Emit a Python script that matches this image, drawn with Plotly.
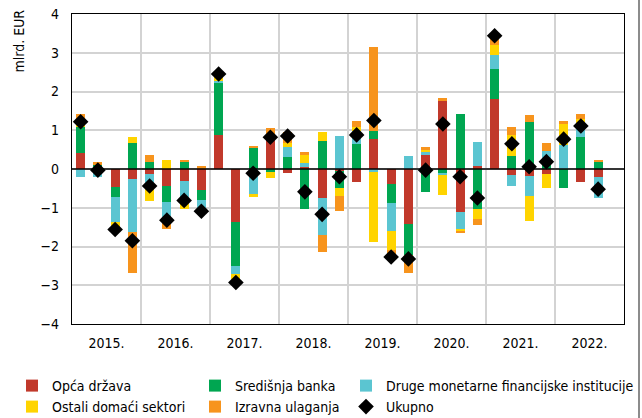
import plotly.graph_objects as go

# Quarterly flows, 2015 Q1 - 2022 Q3 (mlrd. EUR)
years = ["2015.", "2016.", "2017.", "2018.", "2019.", "2020.", "2021.", "2022."]
quarters = [f"{y[:4]} Q{q}" for y in years for q in range(1, 5)][:31]

opca_drzava = [0.42, 0.03, -0.47, -0.26,
               -0.13, -0.45, -0.30, -0.54,
               0.88, -1.37, 0.00, 0.75,
               -0.11, 0.06, -0.74, -0.05,
               -0.34, 0.77, -0.38, -1.41,
               0.37, 1.76, -1.12, 0.09,
               1.80, -0.15, -0.18, -0.12,
               0.00, -0.33, -0.21]
sredisnja_banka = [0.66, 0.08, -0.26, 0.68,
                   0.18, -0.41, 0.19, -0.26,
                   1.35, -1.14, 0.56, -0.07,
                   0.32, -1.04, 0.72, -0.43,
                   0.65, 0.20, -0.50, -0.80,
                   -0.59, -0.12, 1.42, -1.02,
                   0.77, 0.34, 1.22, 0.15,
                   -0.48, 0.83, 0.19]
druge_mfi = [-0.21, -0.21, -0.63, -1.36,
             -0.31, -0.49, -0.54, -0.30,
             0.04, -0.21, -0.66, 0.00,
             0.26, 0.10, -0.96, 0.86,
             0.33, -0.09, -0.71, 0.34,
             0.06, -0.04, -0.42, 0.61,
             0.38, -0.28, -0.52, 0.31,
             0.62, 0.20, -0.53]
ostali_sektori = [0.20, 0.01, -0.20, 0.14,
                  -0.38, 0.22, -0.20, -0.05,
                  0.14, -0.18, -0.05, -0.17,
                  0.09, 0.20, 0.24, -0.21,
                  0.10, -1.80, -0.49, -0.07,
                  0.07, -0.52, -0.07, -0.28,
                  0.25, 0.55, -0.64, -0.36,
                  0.54, 0.25, 0.00]
izravna_ulaganja = [0.15, 0.05, 0.00, -1.06,
                    0.18, -0.20, 0.02, 0.08,
                    0.04, -0.03, 0.03, 0.30,
                    0.28, 0.09, -0.43, -0.39,
                    0.15, 2.19, -0.17, -0.40,
                    0.06, 0.08, -0.03, -0.15,
                    0.23, 0.20, 0.17, 0.20,
                    0.08, 0.13, 0.02]
ukupno = [1.22, -0.03, -1.56, -1.85,
          -0.44, -1.32, -0.81, -1.09,
          2.45, -2.93, -0.11, 0.82,
          0.85, -0.59, -1.17, -0.20,
          0.88, 1.25, -2.27, -2.32,
          -0.03, 1.16, -0.20, -0.75,
          3.44, 0.65, 0.06, 0.19,
          0.77, 1.11, -0.52]

y_ticks = [-4, -3, -2, -1, 0, 1, 2, 3, 4]

FONT = "DejaVu Sans Condensed, Liberation Sans, sans-serif"
x = list(range(len(quarters)))

W, H = 642, 418
L, R, T, B = 72, 18, 14, 94
pw, ph = W - L - R, H - T - B


def px_x(p):
    return (p - L) / pw


def px_y(p):
    return (H - B - p) / ph


# legend grid: three columns, two rows
col_left = [12, 195, 346]
row_top = [370, 391]

series = [
    ("Opća država", opca_drzava, "#C1392B", (0, 0)),
    ("Središnja banka", sredisnja_banka, "#00A651", (1, 0)),
    ("Druge monetarne financijske institucije", druge_mfi, "#5BC5D1", (2, 0)),
    ("Ostali domaći sektori", ostali_sektori, "#FFD400", (0, 1)),
    ("Izravna ulaganja", izravna_ulaganja, "#F7941D", (1, 1)),
]

legend_common = dict(
    orientation="v", yanchor="top", xanchor="left",
    font=dict(family=FONT, size=14, color="black"),
    bgcolor="rgba(0,0,0,0)", itemwidth=30,
)

fig = go.Figure()
legend_layout = {}
for i, (name, vals, color, (c, r)) in enumerate(series):
    key = "legend" if i == 0 else f"legend{i + 1}"
    fig.add_trace(go.Bar(
        x=x, y=vals, name=name, width=0.52,
        marker=dict(color=color, line=dict(width=0)),
        legend=key, customdata=quarters,
        hovertemplate="%{customdata}: %{y}<extra>" + name + "</extra>",
    ))
    legend_layout[key] = dict(x=px_x(col_left[c]), y=px_y(row_top[r]), **legend_common)

fig.add_trace(go.Scatter(
    x=x, y=ukupno, name="Ukupno", mode="markers",
    marker=dict(symbol="diamond", size=12, color="black"),
    legend="legend6", customdata=quarters,
    hovertemplate="%{customdata}: %{y}<extra>Ukupno</extra>",
))
legend_layout["legend6"] = dict(x=px_x(col_left[2]), y=px_y(row_top[1]), **legend_common)

year_centers = [4 * i + 1.5 for i in range(len(years))]
year_bounds = [4 * i + 3.5 for i in range(len(years) - 1)]

fig.update_layout(
    width=W, height=H,
    margin=dict(l=L, r=R, t=T, b=B, autoexpand=False),
    paper_bgcolor="white", plot_bgcolor="white",
    barmode="relative", bargap=0,
    font=dict(family=FONT, color="black"),
    showlegend=True,
    **legend_layout,
    xaxis=dict(
        range=[-0.5, 31.5],
        tickmode="array", tickvals=year_centers, ticktext=years,
        showgrid=False, ticks="", ticklabelstandoff=6,
        tickfont=dict(family=FONT, size=14, color="black"),
        showline=True, mirror=True, linecolor="black", linewidth=1.2,
        minor=dict(tickmode="array", tickvals=year_bounds, showgrid=True,
                   gridcolor="#D3D3D3", gridwidth=1.5, ticks=""),
        zeroline=False,
    ),
    yaxis=dict(
        range=[-4, 4], tickmode="array", tickvals=y_ticks,
        showgrid=True, gridcolor="#D3D3D3", gridwidth=1.5,
        zeroline=False,
        ticks="", ticklabelstandoff=9,
        tickfont=dict(family=FONT, size=14, color="black"),
        showline=True, mirror=True, linecolor="black", linewidth=1.2,
    ),
    annotations=[dict(
        text="mlrd. EUR", textangle=-90, showarrow=False,
        xref="paper", yref="paper", x=px_x(18), y=px_y(8),
        xanchor="center", yanchor="top",
        font=dict(family=FONT, size=14, color="black"),
    )],
    shapes=[
        # zero line drawn over the bars
        dict(type="line", xref="paper", yref="y", x0=0, x1=1, y0=0, y1=0,
             line=dict(color="black", width=1.5), layer="above"),
        # right frame edge
        dict(type="line", xref="paper", yref="paper",
             x0=px_x(639), x1=px_x(639), y0=px_y(H), y1=px_y(0),
             line=dict(color="#8C8C8C", width=2)),
    ],
)

fig.write_html("out.html")
